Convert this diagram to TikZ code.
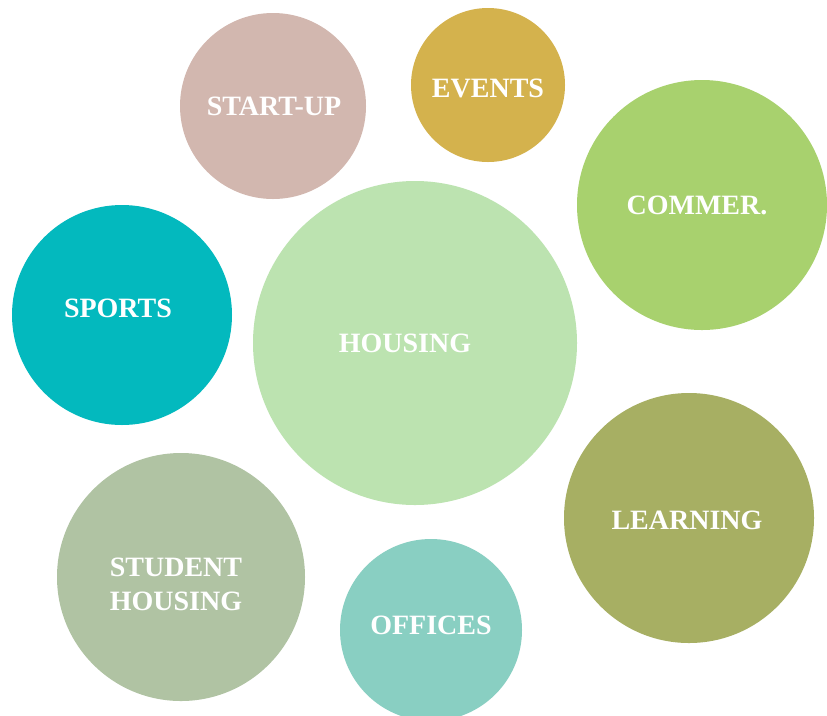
\documentclass[tikz,border=0pt]{standalone}
\usepackage{fontspec}
\setmainfont{Liberation Serif}
\usepackage{tikz}
\usetikzlibrary{positioning}
\usepackage{xcolor}

\definecolor{startupc}{HTML}{D2B7AF}
\definecolor{eventsc}{HTML}{D4B24D}
\definecolor{commerc}{HTML}{A8D16E}
\definecolor{sportsc}{HTML}{03B9BE}
\definecolor{housingc}{HTML}{BCE3B0}
\definecolor{learnc}{HTML}{A7AF63}
\definecolor{studentc}{HTML}{B0C3A3}
\definecolor{officesc}{HTML}{89CFC2}

\tikzset{
  bubble/.style={circle, inner sep=0pt, draw=none, minimum size=#1},
  tag/.style={text=white, font=\bfseries\fontsize{21}{25.5}\selectfont, align=center, inner sep=0pt}
}

\begin{document}
\begin{tikzpicture}[x=0.75pt, y=-0.75pt]
% frame
\clip (0,0) rectangle (827,715);
\fill[white] (0,0) rectangle (827,715);

% circles
\node[bubble=139.5pt, fill=startupc] (startup) at (273,106) {};
\node[bubble=115.5pt, fill=eventsc] (events) at (488,85) {};
\node[bubble=187.5pt, fill=commerc] (commer) at (702,205) {};
\node[bubble=165pt, fill=sportsc] (sports) at (122,315) {};
\node[bubble=243pt, fill=housingc] (housing) at (415,343) {};
\node[bubble=187.5pt, fill=learnc] (learning) at (689,518) {};
\node[bubble=186pt, fill=studentc] (student) at (181,577) {};
\node[bubble=136.5pt, fill=officesc] (offices) at (431,630) {};

% labels
\node[tag] (startuplbl) at (274,106) {START-UP};
\node[tag] (eventslbl) at (488,88) {EVENTS};
\node[tag] (commerlbl) at (697,205) {COMMER.};
\node[tag] (sportslbl) at (118,308) {SPORTS};
\node[tag] (housinglbl) at (405,343) {HOUSING};
\node[tag] (learninglbl) at (687,520) {LEARNING};
\node[tag] (studentlbl) at (176,584) {STUDENT\\HOUSING};
\node[tag] (officeslbl) at (431,625) {OFFICES};
\end{tikzpicture}
\end{document}
